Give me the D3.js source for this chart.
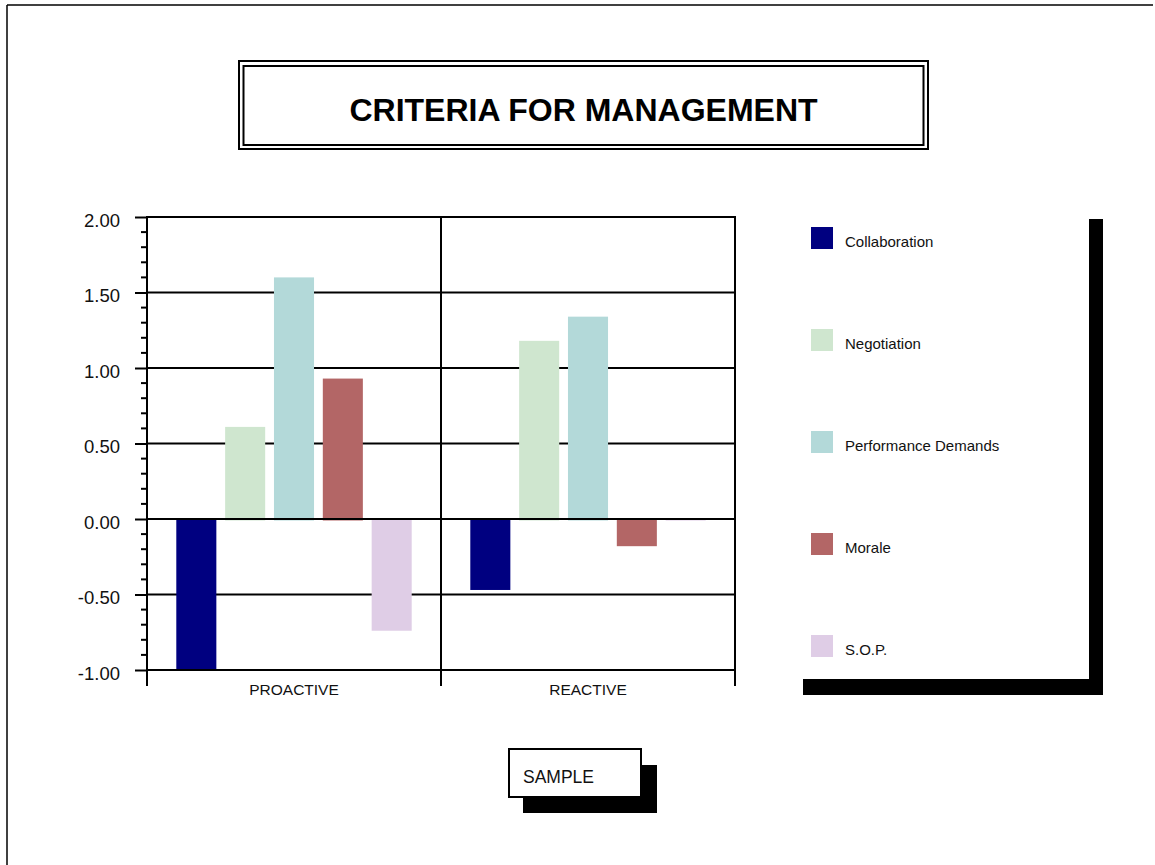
<!DOCTYPE html>
<html>
<head>
<meta charset="utf-8">
<script src="https://cdn.jsdelivr.net/npm/d3@7/dist/d3.min.js"></script>
<style>
  html, body { margin: 0; padding: 0; background: #fff; }
  svg { display: block; font-family: "Liberation Sans", Arial, sans-serif; }
</style>
</head>
<body>
<svg id="chart" width="1155" height="865"></svg>
<script>
// Survey results: management criteria scores by style
const groups = ["PROACTIVE", "REACTIVE"];
const series = ["Collaboration", "Negotiation", "Performance Demands", "Morale", "S.O.P."];
const proactive = [-1.00, 0.61, 1.60, 0.93, -0.74];
const reactive = [-0.47, 1.18, 1.34, -0.18, -0.01];
const colors = ["#000080", "#cfe6cf", "#b3d9d9", "#b36666", "#dfcde6"];
const yTicks = [-1.00, -0.50, 0.00, 0.50, 1.00, 1.50, 2.00];
const titleText = "CRITERIA FOR MANAGEMENT";
const stampText = "SAMPLE";

const values = { PROACTIVE: proactive, REACTIVE: reactive };
const svg = d3.select("#chart");

// page frame (left and top rules)
svg.append("line").attr("x1", 7).attr("x2", 7).attr("y1", 5).attr("y2", 865)
  .attr("stroke", "#000").attr("stroke-width", 1.5);
svg.append("line").attr("x1", 7).attr("x2", 1153).attr("y1", 5).attr("y2", 5)
  .attr("stroke", "#000").attr("stroke-width", 1.5);

// title with double border
svg.append("rect").attr("x", 239).attr("y", 61).attr("width", 689).attr("height", 88)
  .attr("fill", "none").attr("stroke", "#000").attr("stroke-width", 2);
svg.append("rect").attr("x", 243.5).attr("y", 66).attr("width", 680).attr("height", 79)
  .attr("fill", "none").attr("stroke", "#000").attr("stroke-width", 2);
svg.append("text").attr("x", 583.5).attr("y", 120.5)
  .attr("text-anchor", "middle").attr("font-weight", "bold").attr("font-size", 32)
  .attr("fill", "#000").text(titleText);

// scales
const y = d3.scaleLinear().domain([-1, 2]).range([670, 217]);
const x0 = d3.scaleBand().domain(groups).range([147, 735]).paddingInner(0).paddingOuter(0);
const x1 = d3.scaleBand().domain(series).range([0, x0.bandwidth()])
  .paddingInner(0.18).paddingOuter(0.6);

const plot = svg.append("g");

// horizontal grid lines (drawn under bars)
plot.append("g").selectAll("line").data(yTicks.filter(t => t !== 0 && t !== -1)).join("line")
  .attr("x1", 147).attr("x2", 735).attr("y1", d => y(d)).attr("y2", d => y(d))
  .attr("stroke", "#000").attr("stroke-width", 2);

// bars
const gGroups = plot.append("g").selectAll("g").data(groups).join("g")
  .attr("transform", g => `translate(${x0(g)},0)`);
gGroups.selectAll("rect").data(g => values[g].map((v, i) => ({ v, s: series[i], i })))
  .join("rect")
  .attr("x", d => x1(d.s))
  .attr("width", x1.bandwidth())
  .attr("y", d => d.v >= 0 ? y(d.v) : y(0) + 1)
  .attr("height", d => d.v >= 0 ? y(0) - y(d.v) + 1.5 : y(d.v) - y(0) - 1)
  .attr("fill", d => colors[d.i]);

// zero and baseline rules over the bars
plot.append("g").selectAll("line").data([0, -1]).join("line")
  .attr("x1", 147).attr("x2", 735).attr("y1", d => y(d)).attr("y2", d => y(d))
  .attr("stroke", "#000").attr("stroke-width", 2);

// vertical frame and group dividers
const dividers = [147, x0("REACTIVE"), 735];
plot.append("g").selectAll("line").data(dividers).join("line")
  .attr("x1", d => d).attr("x2", d => d).attr("y1", 216).attr("y2", 686)
  .attr("stroke", "#000").attr("stroke-width", 2);
plot.append("line").attr("x1", 147).attr("x2", 735).attr("y1", 217).attr("y2", 217)
  .attr("stroke", "#000").attr("stroke-width", 2);

// y axis ticks and labels
const yAxis = d3.axisLeft(y).tickValues(yTicks).tickSize(12).tickFormat(d => d.toFixed(2));
const ya = svg.append("g").attr("transform", "translate(147,0)").call(yAxis);
ya.select(".domain").remove();
ya.selectAll(".tick line").attr("stroke", "#000").attr("stroke-width", 2);
ya.selectAll(".tick text").attr("font-size", 18.5).attr("fill", "#111")
  .attr("font-family", "'Liberation Sans', Arial, sans-serif")
  .attr("x", -27).attr("dy", "0.62em").attr("y", -2);

// minor ticks every 0.1
const minor = d3.range(-10, 21).map(k => k / 10).filter(v => Math.abs(v * 2 - Math.round(v * 2)) > 1e-6);
svg.append("g").selectAll("line").data(minor).join("line")
  .attr("x1", 141).attr("x2", 147).attr("y1", d => y(d)).attr("y2", d => y(d))
  .attr("stroke", "#000").attr("stroke-width", 2);

// category labels
svg.append("g").selectAll("text").data(groups).join("text")
  .attr("x", g => x0(g) + x0.bandwidth() / 2).attr("y", 695)
  .attr("text-anchor", "middle").attr("font-size", 15.5).attr("fill", "#111")
  .text(g => g);

// legend with drop shadow
svg.append("rect").attr("x", 803).attr("y", 219).attr("width", 300).attr("height", 476).attr("fill", "#000");
svg.append("rect").attr("x", 789).attr("y", 205).attr("width", 300).attr("height", 474).attr("fill", "#fff");
const legend = svg.append("g").selectAll("g").data(series).join("g")
  .attr("transform", (d, i) => `translate(811,${227 + i * 102})`);
legend.append("rect").attr("width", 22).attr("height", 22).attr("fill", (d, i) => colors[i]);
legend.append("text").attr("x", 34).attr("y", 20).attr("font-size", 15).attr("fill", "#111").text(d => d);

// stamp box with shadow
svg.append("rect").attr("x", 523).attr("y", 765).attr("width", 134).attr("height", 48).attr("fill", "#000");
svg.append("rect").attr("x", 509).attr("y", 749).attr("width", 132).attr("height", 48)
  .attr("fill", "#fff").attr("stroke", "#000").attr("stroke-width", 2);
svg.append("text").attr("x", 523).attr("y", 783).attr("font-size", 17.5).attr("fill", "#111").text(stampText);
</script>
</body>
</html>
